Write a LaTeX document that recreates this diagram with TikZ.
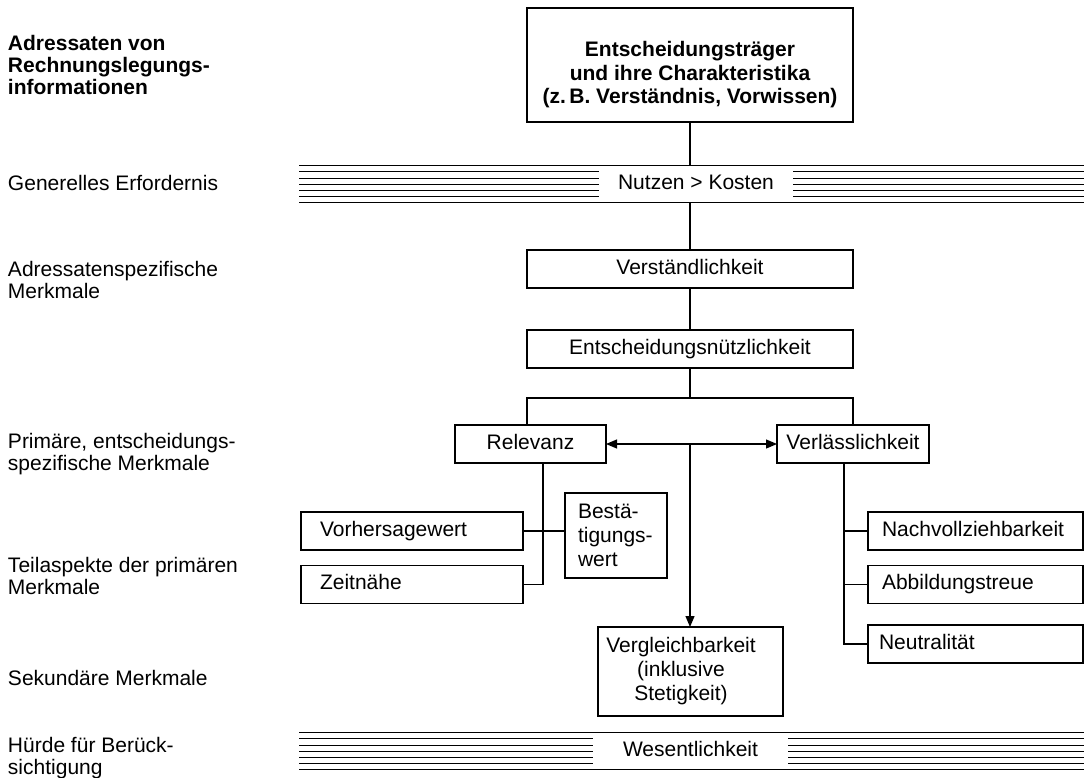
\documentclass[tikz,border=0pt]{standalone}
\usepackage{fontspec}
\setmainfont{Liberation Sans}
\usetikzlibrary{arrows.meta}
\begin{document}
\begin{tikzpicture}[x=1pt,y=-1pt,
  every node/.style={font=\fontsize{21}{24}\selectfont, inner sep=0pt, outer sep=0pt},
  conn/.style={line width=1.2pt},
  tip/.style={line width=1.2pt, -{Triangle[length=11pt,width=9pt]}},
  band/.style={line width=1pt},
  box/.style={draw, line width=1.2pt, text height=15pt, text depth=5pt, minimum height=38pt},
  lbox/.style={box, align=left},
  mbox/.style={draw, line width=1.2pt},
  lab/.style={anchor=base west, align=left, font=\fontsize{21}{22}\selectfont},
  gap/.style={text height=15pt, text depth=5pt, minimum height=37pt}
]
\useasboundingbox (0,0) rectangle (1084,778);

% row labels (anchored at the baseline of their last line)
\node[lab, font=\fontsize{21}{22}\selectfont\bfseries] (l0) at (8,95) {Adressaten von\\Rechnungslegungs-\\informationen};
\node[lab] (l1) at (8,191) {Generelles Erfordernis};
\node[lab] (l2) at (8,298) {Adressatenspezifische\\Merkmale};
\node[lab] (l3) at (8,470) {Primäre, entscheidungs-\\spezifische Merkmale};
\node[lab] (l4) at (8,594) {Teilaspekte der primären\\Merkmale};
\node[lab] (l5) at (8,685) {Sekundäre Merkmale};
\node[lab] (l6) at (8,774) {Hürde für Berück-\\sichtigung};

% main column
\node[mbox, minimum width=326pt, minimum height=114pt] (top) at (690,65) {};
\node[align=center, font=\fontsize{21}{23.5}\selectfont\bfseries] (topt) at (690,75)
  {Entscheidungsträger\\und ihre Charakteristika\\(z.\,B. Verständnis, Vorwissen)};
\node[gap, minimum width=194pt] (nk) at (696,184.2) {Nutzen > Kosten};
\node[box, minimum width=326pt] (ver) at (690,269) {Verständlichkeit};
\node[box, line width=2.4pt, minimum width=326pt] (enu) at (690,349) {Entscheidungsnützlichkeit};
\node[box, minimum width=151pt] (rel) at (530.5,444) {Relevanz};
\node[box, minimum width=152pt] (vl) at (853,444) {Verlässlichkeit};

% sub-aspects of Relevanz
\node[lbox, inner xsep=19pt, text width=184pt] (vh) at (412,531) {Vorhersagewert};
\node[lbox, inner xsep=19pt, text width=184pt] (zn) at (412,584.5) {Zeitnähe};
\node[mbox, align=left, inner xsep=13pt, text width=76pt, minimum height=85pt] (bw) at (616,535.5)
  {Bestä-\\tigungs-\\wert};

% sub-aspects of Verlaesslichkeit
\node[lbox, inner xsep=14pt, text width=187pt] (nv) at (975.5,531) {Nachvollziehbarkeit};
\node[lbox, inner xsep=14pt, text width=187pt] (ab) at (975.5,584.5) {Abbildungstreue};
\node[lbox, inner xsep=11pt, text width=193pt] (ne) at (975.5,644) {Neutralität};

% secondary characteristic
\node[mbox, minimum width=185pt, minimum height=89pt] (vg) at (690.5,671.5) {};
\node[align=center] (vgt) at (681,671.5) {Vergleichbarkeit\\(inklusive\\Stetigkeit)};

% materiality hurdle
\node[gap, minimum width=195pt] (ws) at (690.5,751) {Wesentlichkeit};

% ruled bands
\foreach \yy in {165.7,732.7} {
  \draw[band] (299,\yy) -- (1084,\yy);
  \draw[band] (299,\yy+37) -- (1084,\yy+37);
}
\foreach \k in {1,...,5} {
  \draw[band] (299,165.7+\k*6.17) -- (nk.west |- 0,165.7+\k*6.17);
  \draw[band] (nk.east |- 0,165.7+\k*6.17) -- (1084,165.7+\k*6.17);
  \draw[band] (299,732.7+\k*6.17) -- (ws.west |- 0,732.7+\k*6.17);
  \draw[band] (ws.east |- 0,732.7+\k*6.17) -- (1084,732.7+\k*6.17);
}

% connectors
\draw[conn] (top.south) -- (top.south |- nk.north);
\draw[conn] (top.south |- nk.south) -- (ver.north);
\draw[conn] (ver.south) -- (ver.south |- enu.north);
\coordinate (br) at (enu.south |- 0,398);
\draw[conn] (enu.south) -- (br);
\draw[conn] (rel.north -| enu.west) |- (br) -| (vl.north -| enu.east);
\draw[conn, {Triangle[length=11pt,width=9pt]}-{Triangle[length=11pt,width=9pt]}] (rel.east) -- (vl.west);
\coordinate (mid) at (rel.east -| enu.south);
\draw[tip] (mid) -- (mid |- vg.north);

\draw[conn] (rel.south -| 543,0) |- (zn.east);
\draw[conn] (vh.east) -- (vh.east -| bw.west);

\draw[conn] (vl.south -| 844,0) |- (ne.west);
\draw[conn] (nv.west -| 844,0) -- (nv.west);
\draw[conn] (ab.west -| 844,0) -- (ab.west);
\end{tikzpicture}
\end{document}
